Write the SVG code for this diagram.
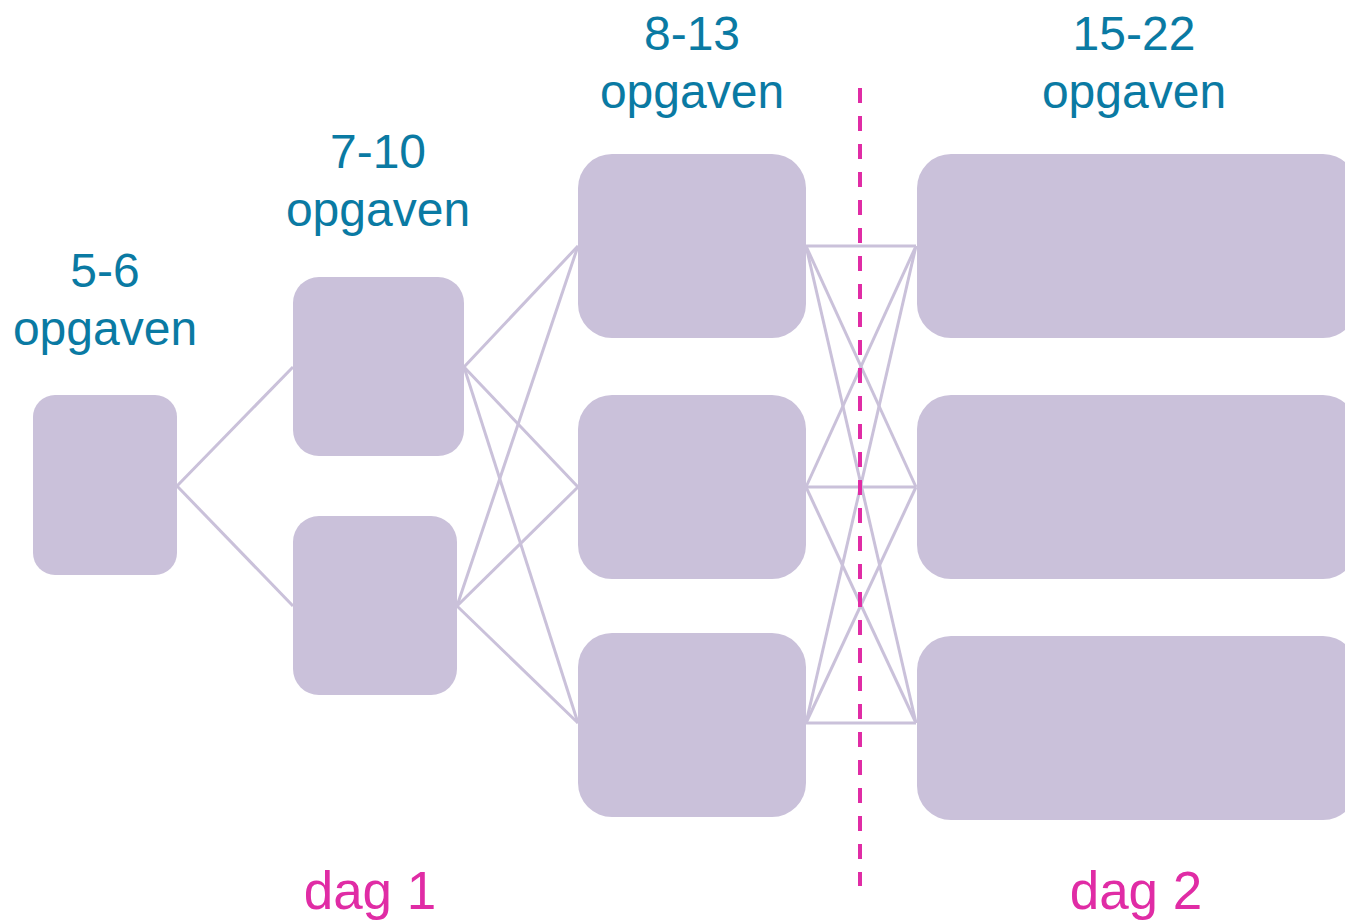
<svg xmlns="http://www.w3.org/2000/svg" width="1345" height="920" viewBox="0 0 1345 920">
<style>
.n{fill:#cac1da}
.c{stroke:#cac1da;stroke-width:3;fill:none}
.t{font-family:"Liberation Sans",Arial,sans-serif;font-size:48px;fill:#0a7aa3;text-anchor:middle}
.d{font-family:"Liberation Sans",Arial,sans-serif;font-size:53px;fill:#e02ca5;text-anchor:middle}
</style>
<rect width="1345" height="920" fill="#ffffff"/>
<g id="connectors" class="c">
<line x1="177" y1="486" x2="293" y2="367"/>
<line x1="177" y1="486" x2="293" y2="606"/>
<line x1="464" y1="367" x2="578" y2="246"/>
<line x1="464" y1="367" x2="578" y2="487"/>
<line x1="464" y1="367" x2="578" y2="723"/>
<line x1="457" y1="606" x2="578" y2="246"/>
<line x1="457" y1="606" x2="578" y2="487"/>
<line x1="457" y1="606" x2="578" y2="723"/>
<line x1="806" y1="246" x2="916" y2="246"/>
<line x1="806" y1="246" x2="916" y2="487"/>
<line x1="806" y1="246" x2="916" y2="723"/>
<line x1="806" y1="487" x2="916" y2="246"/>
<line x1="806" y1="487" x2="916" y2="487"/>
<line x1="806" y1="487" x2="916" y2="723"/>
<line x1="806" y1="723" x2="916" y2="246"/>
<line x1="806" y1="723" x2="916" y2="487"/>
<line x1="806" y1="723" x2="916" y2="723"/>
</g>
<g id="nodeA"><rect class="n" x="33" y="395" width="144" height="180" rx="22"/></g>
<g id="nodeB1"><rect class="n" x="293" y="277" width="171" height="179" rx="26"/></g>
<g id="nodeB2"><rect class="n" x="293" y="516" width="164" height="179" rx="26"/></g>
<g id="nodeC1"><rect class="n" x="578" y="154" width="228" height="184" rx="34"/></g>
<g id="nodeC2"><rect class="n" x="578" y="395" width="228" height="184" rx="34"/></g>
<g id="nodeC3"><rect class="n" x="578" y="633" width="228" height="184" rx="34"/></g>
<g id="nodeD1"><rect class="n" x="917" y="154" width="440" height="184" rx="34"/></g>
<g id="nodeD2"><rect class="n" x="917" y="395" width="440" height="184" rx="34"/></g>
<g id="nodeD3"><rect class="n" x="917" y="636" width="440" height="184" rx="34"/></g>
<line id="divider" x1="860" y1="88" x2="860" y2="886" stroke="#e02ca5" stroke-width="4" stroke-dasharray="15 13"/>
<g id="labels">
<text class="t" x="105" y="287">5-6</text>
<text class="t" x="105" y="345">opgaven</text>
<text class="t" x="378" y="168">7-10</text>
<text class="t" x="378" y="226">opgaven</text>
<text class="t" x="692" y="50">8-13</text>
<text class="t" x="692" y="108">opgaven</text>
<text class="t" x="1134" y="50">15-22</text>
<text class="t" x="1134" y="108">opgaven</text>
<text class="d" x="370" y="909">dag 1</text>
<text class="d" x="1136" y="909">dag 2</text>
</g>
</svg>
